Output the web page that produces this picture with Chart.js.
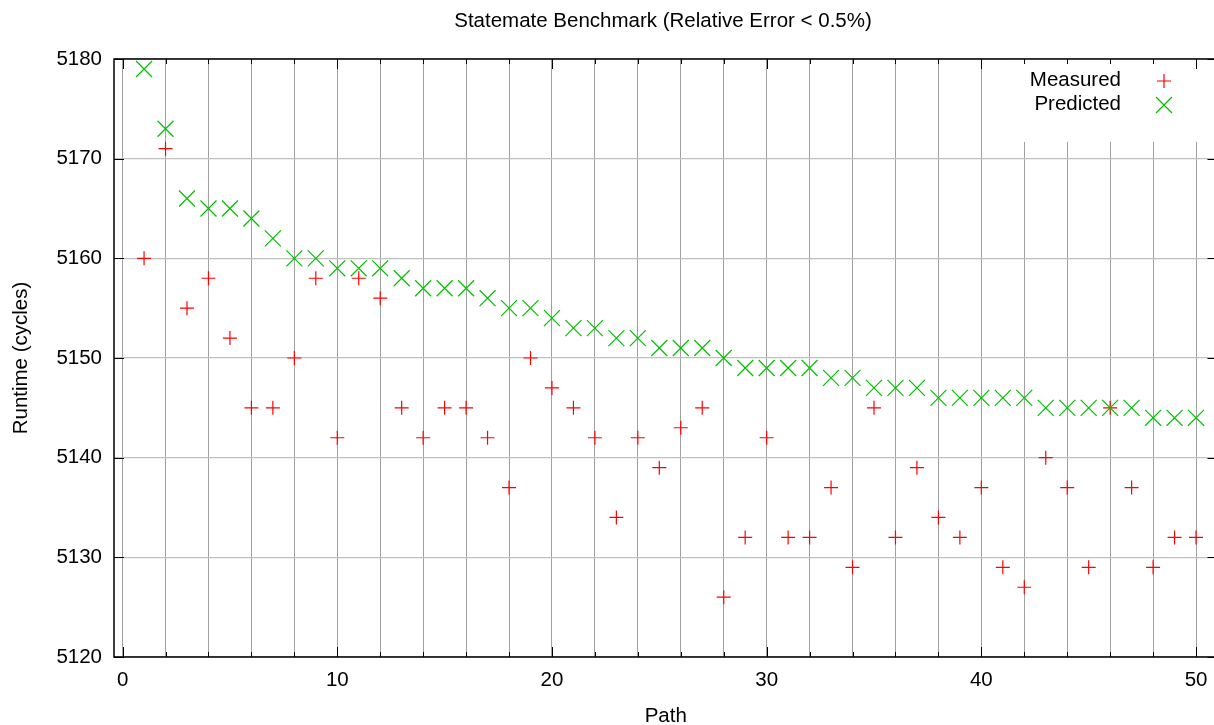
<!DOCTYPE html>
<html>
<head>
<meta charset="UTF-8">
<title>Statemate Benchmark</title>
<style>
	html, body {
		margin: 0;
		padding: 0;
		overflow: hidden;
		background: #fff;
	}
	#myChart {
		display: block;
	}
</style>
<script src="https://cdn.jsdelivr.net/npm/chart.js@4.4.1/dist/chart.umd.min.js"></script>
</head>
<body>
<canvas id="myChart" width="1230" height="725"></canvas>
<script>
	// data
	var paths = [1, 2, 3, 4, 5, 6, 7, 8, 9, 10, 11, 12, 13, 14, 15, 16, 17, 18, 19, 20,
		21, 22, 23, 24, 25, 26, 27, 28, 29, 30, 31, 32, 33, 34, 35, 36, 37, 38, 39, 40,
		41, 42, 43, 44, 45, 46, 47, 48, 49, 50];
	var measured = [5160, 5171, 5155, 5158, 5152, 5145, 5145, 5150, 5158, 5142,
		5158, 5156, 5145, 5142, 5145, 5145, 5142, 5137, 5150, 5147,
		5145, 5142, 5134, 5142, 5139, 5143, 5145, 5126, 5132, 5142,
		5132, 5132, 5137, 5129, 5145, 5132, 5139, 5134, 5132, 5137,
		5129, 5127, 5140, 5137, 5129, 5145, 5137, 5129, 5132, 5132];
	var predicted = [5179, 5173, 5166, 5165, 5165, 5164, 5162, 5160, 5160, 5159,
		5159, 5159, 5158, 5157, 5157, 5157, 5156, 5155, 5155, 5154,
		5153, 5153, 5152, 5152, 5151, 5151, 5151, 5150, 5149, 5149,
		5149, 5149, 5148, 5148, 5147, 5147, 5147, 5146, 5146, 5146,
		5146, 5146, 5145, 5145, 5145, 5145, 5145, 5144, 5144, 5144];

	var xGrid = [0, 2, 4, 6, 8, 10, 12, 14, 16, 18, 20, 22, 24, 26, 28, 30, 32, 34, 36, 38, 40, 42, 44, 46, 48, 50];
	var xLabels = [0, 10, 20, 30, 40, 50];
	var yTicks = [5120, 5130, 5140, 5150, 5160, 5170, 5180];

	var FONT = "'Liberation Sans', Arial, Helvetica, sans-serif";
	var RED = '#ff0000';
	var GREEN = '#00c000';
	var PLOT_RIGHT = 1217; // right border sits just past the visible window

	function toPoints(vals) {
		return paths.map(function(p, i) { return {x: p, y: vals[i]}; });
	}

	// frame, inward ticks, key and title, gnuplot style
	var gnuplotDecor = {
		id: 'gnuplotDecor',
		beforeDatasetsDraw: function(chart) {
			var a = chart.chartArea, ctx = chart.ctx;
			ctx.save();
			ctx.fillStyle = '#fff';
			ctx.fillRect(1010, a.top, a.right - 1010, 142 - a.top);
			ctx.restore();
		},
		afterDatasetsDraw: function(chart) {
			var a = chart.chartArea, ctx = chart.ctx;
			var xs = chart.scales.x, ys = chart.scales.y;
			ctx.save();
			ctx.strokeStyle = '#000';
			ctx.lineWidth = 1;
			ctx.beginPath();
			xGrid.forEach(function(v) {
				var px = Math.round(xs.getPixelForValue(v)) + 0.5;
				var len = xLabels.indexOf(v) >= 0 ? 10 : 5;
				ctx.moveTo(px, a.bottom); ctx.lineTo(px, a.bottom - len);
				ctx.moveTo(px, a.top); ctx.lineTo(px, a.top + len);
			});
			yTicks.forEach(function(v) {
				var py = Math.round(ys.getPixelForValue(v)) + 0.5;
				ctx.moveTo(a.left, py); ctx.lineTo(a.left + 10, py);
				ctx.moveTo(a.right, py); ctx.lineTo(a.right - 10, py);
			});
			ctx.stroke();

			ctx.lineWidth = 1.5;
			ctx.strokeRect(a.left, a.top, a.right - a.left, a.bottom - a.top);

			// key
			ctx.fillStyle = '#000';
			ctx.font = '20.5px ' + FONT;
			ctx.textAlign = 'right';
			ctx.textBaseline = 'middle';
			ctx.fillText('Measured', 1121, 80);
			ctx.fillText('Predicted', 1121, 104);
			ctx.strokeStyle = RED;
			ctx.lineWidth = 1.2;
			ctx.beginPath();
			ctx.moveTo(1157, 81); ctx.lineTo(1171, 81);
			ctx.moveTo(1164, 74); ctx.lineTo(1164, 88);
			ctx.stroke();
			ctx.strokeStyle = GREEN;
			ctx.beginPath();
			ctx.moveTo(1156, 97); ctx.lineTo(1172, 113);
			ctx.moveTo(1172, 97); ctx.lineTo(1156, 113);
			ctx.stroke();

			// title
			ctx.textAlign = 'center';
			ctx.fillText('Statemate Benchmark (Relative Error < 0.5%)', 663, 21);
			ctx.restore();
		}
	};

	var ctx = document.getElementById('myChart').getContext('2d');
	var myChart = new Chart(ctx, {
		type: 'scatter',
		data: {
			datasets: [{
				label: 'Measured',
				data: toPoints(measured),
				pointStyle: 'cross',
				pointRadius: 7,
				pointBorderWidth: 1.2,
				borderColor: RED,
				backgroundColor: RED,
				order: 2
			}, {
				label: 'Predicted',
				data: toPoints(predicted),
				pointStyle: 'crossRot',
				pointRadius: 11.3,
				pointBorderWidth: 1.2,
				borderColor: GREEN,
				backgroundColor: GREEN,
				order: 1
			}]
		},
		options: {
			responsive: false,
			animation: false,
			events: [],
			layout: {padding: {top: 59, right: 1, left: 0, bottom: 0}},
			plugins: {
				legend: {display: false},
				title: {display: false},
				tooltip: {enabled: false}
			},
			scales: {
				x: {
					type: 'linear',
					min: -0.4,
					max: 51,
					afterBuildTicks: function(s) {
						s.ticks = xGrid.map(function(v) { return {value: v}; });
					},
					afterFit: function(s) { s.height = 68; },
					grid: {color: '#a0a0a0', lineWidth: 1, drawTicks: false},
					border: {display: false},
					ticks: {
						autoSkip: false,
						maxRotation: 0,
						padding: 11,
						color: '#000',
						font: {family: FONT, size: 20.5},
						callback: function(v) { return xLabels.indexOf(v) >= 0 ? String(v) : ''; }
					},
					title: {
						display: true,
						text: 'Path',
						color: '#000',
						font: {family: FONT, size: 20.5, lineHeight: 0.8},
						padding: {top: 0, bottom: 0}
					}
				},
				y: {
					type: 'linear',
					min: 5120,
					max: 5180,
					afterBuildTicks: function(s) {
						s.ticks = yTicks.map(function(v) { return {value: v}; });
					},
					afterFit: function(s) { s.width = 114; },
					grid: {color: '#c0c0c0', lineWidth: 1.2, drawTicks: false},
					border: {display: false},
					ticks: {
						padding: 12,
						color: '#000',
						font: {family: FONT, size: 20.5},
						callback: function(v) { return String(v); }
					},
					title: {
						display: true,
						text: 'Runtime (cycles)',
						color: '#000',
						font: {family: FONT, size: 20.5},
						padding: {top: 8.7, bottom: 0}
					}
				}
			}
		},
		plugins: [gnuplotDecor]
	});

	// the scale keeps room for its last label; widen the canvas so the plot ends where the reference does
	var extra = PLOT_RIGHT - myChart.chartArea.right;
	if (Math.abs(extra) > 0.5) {
		myChart.resize(myChart.width + extra, 725);
	}
</script>
</body>
</html>
